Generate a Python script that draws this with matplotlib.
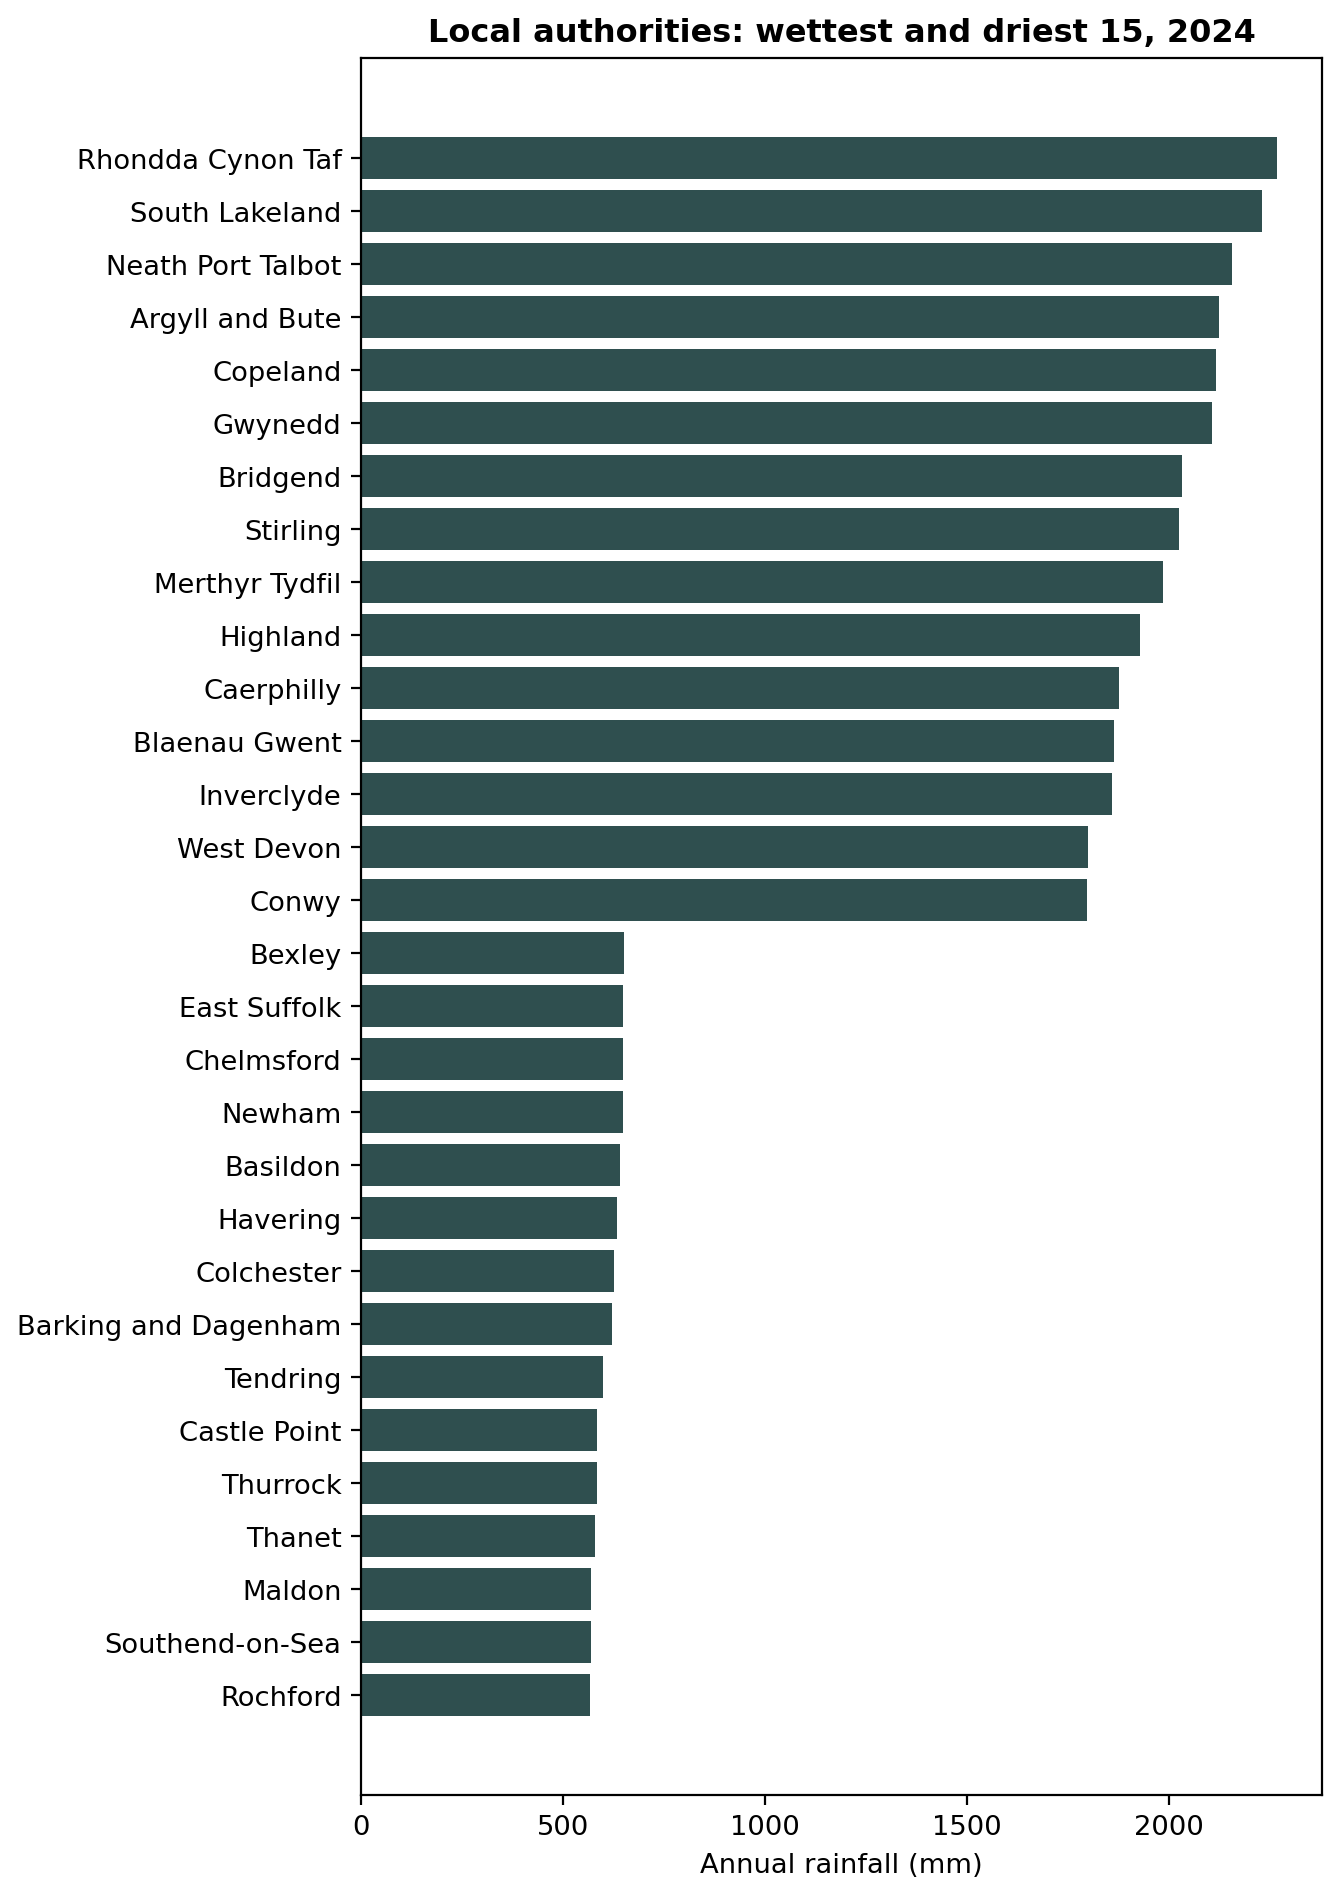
import matplotlib
matplotlib.use("Agg")
import matplotlib.pyplot as plt

authorities = [
    "Rhondda Cynon Taf", "South Lakeland", "Neath Port Talbot", "Argyll and Bute",
    "Copeland", "Gwynedd", "Bridgend", "Stirling", "Merthyr Tydfil", "Highland",
    "Caerphilly", "Blaenau Gwent", "Inverclyde", "West Devon", "Conwy",
    "Bexley", "East Suffolk", "Chelmsford", "Newham", "Basildon", "Havering",
    "Colchester", "Barking and Dagenham", "Tendring", "Castle Point", "Thurrock",
    "Thanet", "Maldon", "Southend-on-Sea", "Rochford",
]
rainfall_mm = [
    2267, 2230, 2156, 2124, 2116, 2106, 2032, 2025, 1985, 1928,
    1876, 1864, 1859, 1800, 1797,
    651, 649, 648, 648, 641, 634, 626, 621, 599, 584, 584,
    579, 569, 569, 567,
]

fig = plt.figure(figsize=(1341 / 200, 1899 / 200), dpi=200)
ax = fig.add_axes([361 / 1341, 1 - 1796 / 1899, (1322.5 - 361) / 1341, (1796 - 59) / 1899])
ax.barh(authorities[::-1], rainfall_mm[::-1], color="#2F4F4F")
ax.set_xlabel("Annual rainfall (mm)", fontsize=9.85)
ax.set_title("Local authorities: wettest and driest 15, 2024", fontsize=11.5, fontweight="bold")
ax.tick_params(labelsize=9.85)
fig.savefig("out.png", dpi=200)
